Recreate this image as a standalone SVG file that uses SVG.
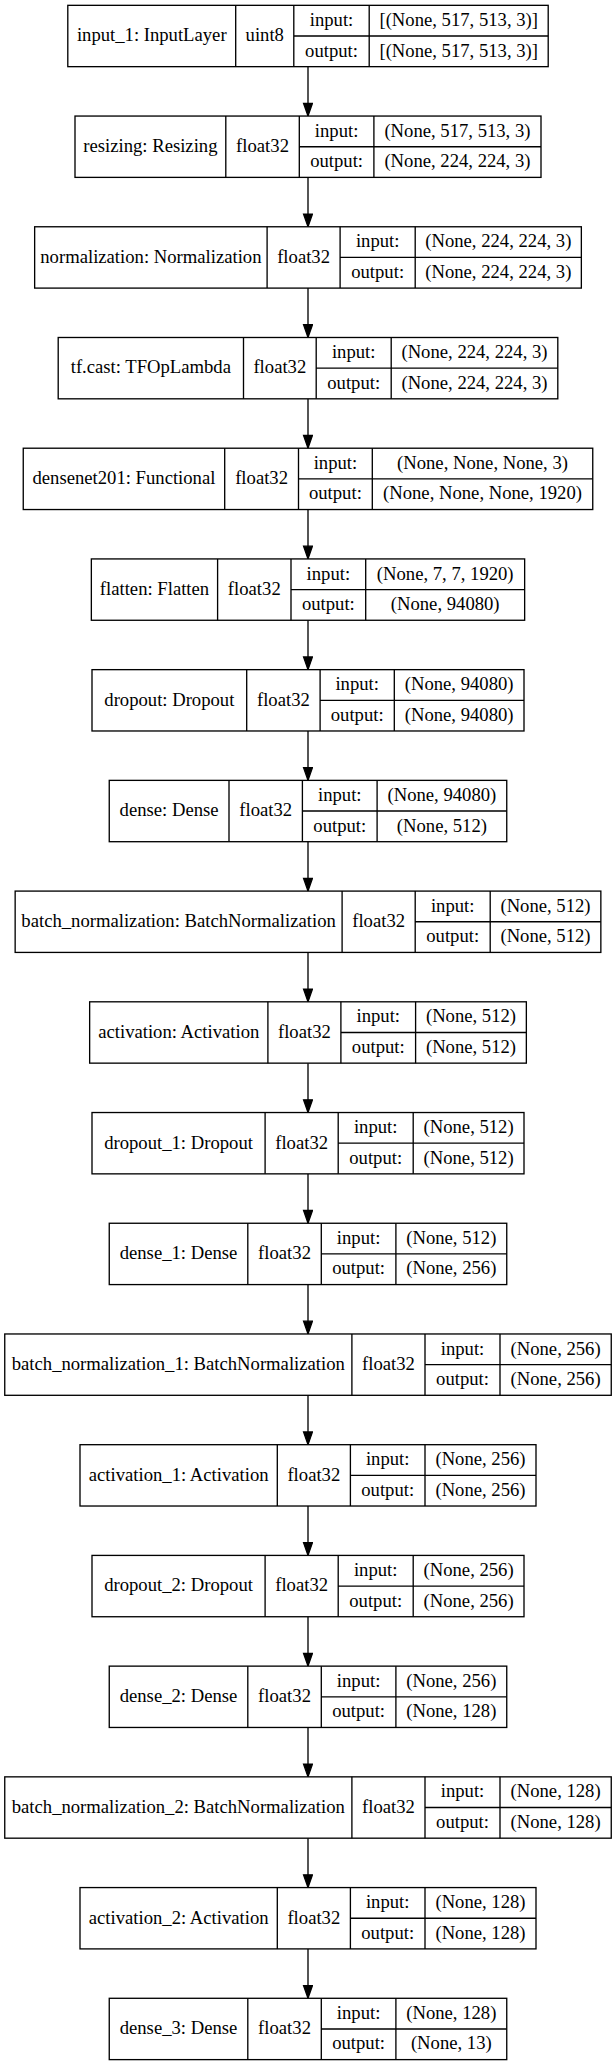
<svg xmlns="http://www.w3.org/2000/svg" width="616" height="2065" viewBox="0 0 616 2065">
<style>
.b{fill:#fff;stroke:#000;stroke-width:1.33}
.d{fill:none;stroke:#000;stroke-width:1.33}
text{font-family:"Liberation Serif","Times New Roman",serif;font-size:18.67px;fill:#000;text-anchor:middle}
.e{fill:none;stroke:#000;stroke-width:1.33;marker-end:url(#ah)}
</style>
<defs>
<marker id="ah" markerUnits="userSpaceOnUse" markerWidth="15" markerHeight="11" refX="13.33" refY="4.67" orient="auto" viewBox="-1 -1 15.5 11.5">
<path d="M0,0 L13.33,4.67 L0,9.33 Z" fill="#000" stroke="#000" stroke-width="1.33"/>
</marker>
</defs>
<rect width="616" height="2065" fill="#fff"/>
<g id="connectors">
<path class="e" d="M308 66.66V116.05"/>
<path class="e" d="M308 177.38V226.77"/>
<path class="e" d="M308 288.1V337.49"/>
<path class="e" d="M308 398.82V448.21"/>
<path class="e" d="M308 509.54V558.93"/>
<path class="e" d="M308 620.26V669.65"/>
<path class="e" d="M308 730.98V780.37"/>
<path class="e" d="M308 841.7V891.09"/>
<path class="e" d="M308 952.42V1001.81"/>
<path class="e" d="M308 1063.14V1112.53"/>
<path class="e" d="M308 1173.86V1223.25"/>
<path class="e" d="M308 1284.58V1333.97"/>
<path class="e" d="M308 1395.3V1444.69"/>
<path class="e" d="M308 1506.02V1555.41"/>
<path class="e" d="M308 1616.74V1666.13"/>
<path class="e" d="M308 1727.46V1776.85"/>
<path class="e" d="M308 1838.18V1887.57"/>
<path class="e" d="M308 1948.9V1998.29"/>
</g>
<g id="n0" transform="translate(0,5.33)">
<rect class="b" x="67.8" y="0" width="480.4" height="61.33"/>
<path class="d" d="M235.7 0V61.33M293.8 0V61.33M369.2 0V61.33M293.8 30.67H548.2"/>
<text x="151.75" y="36">input_1: InputLayer</text><text x="264.75" y="36">uint8</text>
<text x="331.5" y="20.6">input:</text><text x="331.5" y="51.2">output:</text>
<text x="458.7" y="20.6">[(None, 517, 513, 3)]</text><text x="458.7" y="51.2">[(None, 517, 513, 3)]</text>
</g>
<g id="n1" transform="translate(0,116.05)">
<rect class="b" x="75" y="0" width="466" height="61.33"/>
<path class="d" d="M225.8 0V61.33M299.3 0V61.33M373.9 0V61.33M299.3 30.67H541"/>
<text x="150.4" y="36">resizing: Resizing</text><text x="262.55" y="36">float32</text>
<text x="336.6" y="20.6">input:</text><text x="336.6" y="51.2">output:</text>
<text x="457.45" y="20.6">(None, 517, 513, 3)</text><text x="457.45" y="51.2">(None, 224, 224, 3)</text>
</g>
<g id="n2" transform="translate(0,226.77)">
<rect class="b" x="34.65" y="0" width="546.7" height="61.33"/>
<path class="d" d="M267.1 0V61.33M340.1 0V61.33M415.2 0V61.33M340.1 30.67H581.35"/>
<text x="150.9" y="36">normalization: Normalization</text><text x="303.6" y="36">float32</text>
<text x="377.65" y="20.6">input:</text><text x="377.65" y="51.2">output:</text>
<text x="498.3" y="20.6">(None, 224, 224, 3)</text><text x="498.3" y="51.2">(None, 224, 224, 3)</text>
</g>
<g id="n3" transform="translate(0,337.49)">
<rect class="b" x="58.2" y="0" width="499.6" height="61.33"/>
<path class="d" d="M243.5 0V61.33M316.2 0V61.33M391.2 0V61.33M316.2 30.67H557.8"/>
<text x="150.85" y="36">tf.cast: TFOpLambda</text><text x="279.85" y="36">float32</text>
<text x="353.7" y="20.6">input:</text><text x="353.7" y="51.2">output:</text>
<text x="474.5" y="20.6">(None, 224, 224, 3)</text><text x="474.5" y="51.2">(None, 224, 224, 3)</text>
</g>
<g id="n4" transform="translate(0,448.21)">
<rect class="b" x="23.25" y="0" width="569.5" height="61.33"/>
<path class="d" d="M224.7 0V61.33M298.5 0V61.33M372.3 0V61.33M298.5 30.67H592.75"/>
<text x="123.98" y="36">densenet201: Functional</text><text x="261.6" y="36">float32</text>
<text x="335.4" y="20.6">input:</text><text x="335.4" y="51.2">output:</text>
<text x="482.5" y="20.6">(None, None, None, 3)</text><text x="482.5" y="51.2">(None, None, None, 1920)</text>
</g>
<g id="n5" transform="translate(0,558.93)">
<rect class="b" x="91.35" y="0" width="433.3" height="61.33"/>
<path class="d" d="M217.6 0V61.33M291 0V61.33M365.7 0V61.33M291 30.67H524.65"/>
<text x="154.5" y="36">flatten: Flatten</text><text x="254.3" y="36">float32</text>
<text x="328.35" y="20.6">input:</text><text x="328.35" y="51.2">output:</text>
<text x="445.2" y="20.6">(None, 7, 7, 1920)</text><text x="445.2" y="51.2">(None, 94080)</text>
</g>
<g id="n6" transform="translate(0,669.65)">
<rect class="b" x="92" y="0" width="432" height="61.33"/>
<path class="d" d="M246.7 0V61.33M320.1 0V61.33M394.3 0V61.33M320.1 30.67H524"/>
<text x="169.35" y="36">dropout: Dropout</text><text x="283.4" y="36">float32</text>
<text x="357.2" y="20.6">input:</text><text x="357.2" y="51.2">output:</text>
<text x="459.15" y="20.6">(None, 94080)</text><text x="459.15" y="51.2">(None, 94080)</text>
</g>
<g id="n7" transform="translate(0,780.37)">
<rect class="b" x="109.25" y="0" width="397.5" height="61.33"/>
<path class="d" d="M229 0V61.33M302.4 0V61.33M377.1 0V61.33M302.4 30.67H506.75"/>
<text x="169.1" y="36">dense: Dense</text><text x="265.7" y="36">float32</text>
<text x="339.75" y="20.6">input:</text><text x="339.75" y="51.2">output:</text>
<text x="441.9" y="20.6">(None, 94080)</text><text x="441.9" y="51.2">(None, 512)</text>
</g>
<g id="n8" transform="translate(0,891.09)">
<rect class="b" x="15.15" y="0" width="585.7" height="61.33"/>
<path class="d" d="M342.1 0V61.33M415.2 0V61.33M490.2 0V61.33M415.2 30.67H600.85"/>
<text x="178.6" y="36">batch_normalization: BatchNormalization</text><text x="378.65" y="36">float32</text>
<text x="452.7" y="20.6">input:</text><text x="452.7" y="51.2">output:</text>
<text x="545.5" y="20.6">(None, 512)</text><text x="545.5" y="51.2">(None, 512)</text>
</g>
<g id="n9" transform="translate(0,1001.81)">
<rect class="b" x="89.65" y="0" width="436.7" height="61.33"/>
<path class="d" d="M267.9 0V61.33M340.9 0V61.33M415.6 0V61.33M340.9 30.67H526.35"/>
<text x="178.8" y="36">activation: Activation</text><text x="304.4" y="36">float32</text>
<text x="378.25" y="20.6">input:</text><text x="378.25" y="51.2">output:</text>
<text x="471" y="20.6">(None, 512)</text><text x="471" y="51.2">(None, 512)</text>
</g>
<g id="n10" transform="translate(0,1112.53)">
<rect class="b" x="92" y="0" width="432" height="61.33"/>
<path class="d" d="M265.1 0V61.33M338.2 0V61.33M413.2 0V61.33M338.2 30.67H524"/>
<text x="178.55" y="36">dropout_1: Dropout</text><text x="301.65" y="36">float32</text>
<text x="375.7" y="20.6">input:</text><text x="375.7" y="51.2">output:</text>
<text x="468.6" y="20.6">(None, 512)</text><text x="468.6" y="51.2">(None, 512)</text>
</g>
<g id="n11" transform="translate(0,1223.25)">
<rect class="b" x="109.25" y="0" width="397.5" height="61.33"/>
<path class="d" d="M247.8 0V61.33M321.3 0V61.33M395.9 0V61.33M321.3 30.67H506.75"/>
<text x="178.5" y="36">dense_1: Dense</text><text x="284.55" y="36">float32</text>
<text x="358.6" y="20.6">input:</text><text x="358.6" y="51.2">output:</text>
<text x="451.3" y="20.6">(None, 512)</text><text x="451.3" y="51.2">(None, 256)</text>
</g>
<g id="n12" transform="translate(0,1333.97)">
<rect class="b" x="4.75" y="0" width="606.5" height="61.33"/>
<path class="d" d="M351.9 0V61.33M425 0V61.33M500 0V61.33M425 30.67H611.25"/>
<text x="178.3" y="36">batch_normalization_1: BatchNormalization</text><text x="388.45" y="36">float32</text>
<text x="462.5" y="20.6">input:</text><text x="462.5" y="51.2">output:</text>
<text x="555.6" y="20.6">(None, 256)</text><text x="555.6" y="51.2">(None, 256)</text>
</g>
<g id="n13" transform="translate(0,1444.69)">
<rect class="b" x="80" y="0" width="456" height="61.33"/>
<path class="d" d="M277.3 0V61.33M350.4 0V61.33M425 0V61.33M350.4 30.67H536"/>
<text x="178.65" y="36">activation_1: Activation</text><text x="313.85" y="36">float32</text>
<text x="387.7" y="20.6">input:</text><text x="387.7" y="51.2">output:</text>
<text x="480.5" y="20.6">(None, 256)</text><text x="480.5" y="51.2">(None, 256)</text>
</g>
<g id="n14" transform="translate(0,1555.41)">
<rect class="b" x="92" y="0" width="432" height="61.33"/>
<path class="d" d="M265.1 0V61.33M338.2 0V61.33M413.2 0V61.33M338.2 30.67H524"/>
<text x="178.55" y="36">dropout_2: Dropout</text><text x="301.65" y="36">float32</text>
<text x="375.7" y="20.6">input:</text><text x="375.7" y="51.2">output:</text>
<text x="468.6" y="20.6">(None, 256)</text><text x="468.6" y="51.2">(None, 256)</text>
</g>
<g id="n15" transform="translate(0,1666.13)">
<rect class="b" x="109.25" y="0" width="397.5" height="61.33"/>
<path class="d" d="M247.8 0V61.33M321.3 0V61.33M395.9 0V61.33M321.3 30.67H506.75"/>
<text x="178.5" y="36">dense_2: Dense</text><text x="284.55" y="36">float32</text>
<text x="358.6" y="20.6">input:</text><text x="358.6" y="51.2">output:</text>
<text x="451.3" y="20.6">(None, 256)</text><text x="451.3" y="51.2">(None, 128)</text>
</g>
<g id="n16" transform="translate(0,1776.85)">
<rect class="b" x="4.75" y="0" width="606.5" height="61.33"/>
<path class="d" d="M351.9 0V61.33M425 0V61.33M500 0V61.33M425 30.67H611.25"/>
<text x="178.3" y="36">batch_normalization_2: BatchNormalization</text><text x="388.45" y="36">float32</text>
<text x="462.5" y="20.6">input:</text><text x="462.5" y="51.2">output:</text>
<text x="555.6" y="20.6">(None, 128)</text><text x="555.6" y="51.2">(None, 128)</text>
</g>
<g id="n17" transform="translate(0,1887.57)">
<rect class="b" x="80" y="0" width="456" height="61.33"/>
<path class="d" d="M277.3 0V61.33M350.4 0V61.33M425 0V61.33M350.4 30.67H536"/>
<text x="178.65" y="36">activation_2: Activation</text><text x="313.85" y="36">float32</text>
<text x="387.7" y="20.6">input:</text><text x="387.7" y="51.2">output:</text>
<text x="480.5" y="20.6">(None, 128)</text><text x="480.5" y="51.2">(None, 128)</text>
</g>
<g id="n18" transform="translate(0,1998.29)">
<rect class="b" x="109.25" y="0" width="397.5" height="61.33"/>
<path class="d" d="M247.8 0V61.33M321.3 0V61.33M395.9 0V61.33M321.3 30.67H506.75"/>
<text x="178.5" y="36">dense_3: Dense</text><text x="284.55" y="36">float32</text>
<text x="358.6" y="20.6">input:</text><text x="358.6" y="51.2">output:</text>
<text x="451.3" y="20.6">(None, 128)</text><text x="451.3" y="51.2">(None, 13)</text>
</g>
</svg>
